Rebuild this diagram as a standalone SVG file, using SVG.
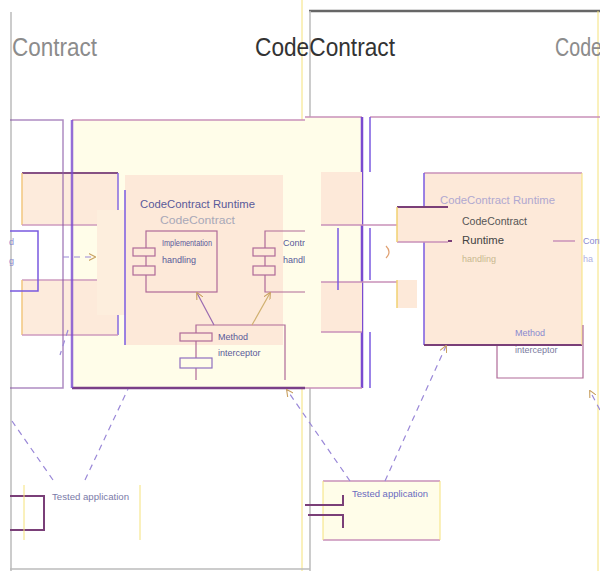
<svg xmlns="http://www.w3.org/2000/svg" width="600" height="571" viewBox="0 0 600 571">
<style>
.t{font-family:"Liberation Sans",Arial,sans-serif}
.big{font-size:25px}
.sm{font-size:10px}
.xs{font-size:9px}
.pl{fill:none;stroke:#8a5aa8;stroke-width:1.5}
.dk{fill:none;stroke:#7a3f78;stroke-width:2}
.bl{fill:none;stroke:#7a5ae0;stroke-width:1.5}
.pk{fill:none;stroke:#c890b8;stroke-width:1.5}
.yl{fill:none;stroke:#f5e27a;stroke-width:1}
.gr{fill:none;stroke:#bbb;stroke-width:1.5}
.peach{fill:#fde9d9}
.cream{fill:#fffde9}
.dash{fill:none;stroke:#9a88d8;stroke-width:1.2;stroke-dasharray:6 5}
</style>
<defs>
<marker id="ah" viewBox="0 0 10 10" refX="9" refY="5" markerWidth="6" markerHeight="6" orient="auto"><path d="M0,0 L10,5 L0,10" fill="none" stroke="#c8a060" stroke-width="1.5"/></marker>
<clipPath id="cl"><rect x="0" y="0" width="305" height="571"/></clipPath>
</defs>
<rect width="600" height="571" fill="#fff"/>

<g id="frames">
<line class="gr" x1="11" y1="12" x2="11" y2="571"/>
<line x1="309" y1="11" x2="600" y2="11" stroke="#666" stroke-width="2.5"/>
<line class="gr" x1="310" y1="11" x2="310" y2="571" stroke-width="1"/>
<line class="yl" x1="302" y1="0" x2="302" y2="571"/>
<line class="gr" x1="10" y1="569" x2="310" y2="569" stroke-width="1"/>
<line class="yl" x1="598" y1="11" x2="598" y2="571"/>
</g>

<g id="titles">
<text class="t big" x="12" y="56" fill="#8c8c8c" textLength="85" lengthAdjust="spacingAndGlyphs">Contract</text>
<text class="t big" x="255" y="56" fill="#333" textLength="140" lengthAdjust="spacingAndGlyphs">CodeContract</text>
<text class="t big" x="555" y="56" fill="#8c8c8c" textLength="47" lengthAdjust="spacingAndGlyphs">Code</text>
</g>

<g id="system-box">
<rect class="cream" x="72" y="120" width="233" height="268"/>
<line class="pk" x1="72" y1="120" x2="305" y2="120"/>
<line x1="72" y1="388" x2="305" y2="388" stroke="#7a3f88" stroke-width="2.5"/>
<rect class="cream" x="305" y="117" width="57" height="271"/>
<line class="pk" x1="305" y1="117" x2="362" y2="117"/>
<line x1="362" y1="117" x2="362" y2="388" stroke="#7a4ad0" stroke-width="2.5"/>
<line class="pk" x1="305" y1="388" x2="362" y2="388"/>
</g>

<g id="port-top-left" opacity="0.9">
<rect class="peach" x="22" y="173" width="96" height="52"/>
<line class="dk" x1="22" y1="173" x2="118" y2="173"/>
<line x1="22" y1="173" x2="22" y2="225" stroke="#f0c070" stroke-width="1.5"/>
<line class="bl" x1="118" y1="173" x2="118" y2="225"/>
<line class="pk" x1="22" y1="225" x2="118" y2="225"/>
</g>
<g id="port-bottom-left" opacity="0.9">
<rect class="peach" x="22" y="280" width="96" height="55"/>
<line class="pk" x1="22" y1="280" x2="118" y2="280"/>
<line x1="22" y1="280" x2="22" y2="335" stroke="#f0c070" stroke-width="1.5"/>
<line class="bl" x1="118" y1="280" x2="118" y2="335"/>
<line class="pk" x1="22" y1="335" x2="118" y2="335"/>
</g>

<g id="left-frame-box">
<polyline class="pl" points="10,120 63,120 63,388 10,388" opacity="0.7"/>
<line x1="72" y1="120" x2="72" y2="388" stroke="#7a4ad0" stroke-width="2.5" opacity="0.8"/>
</g>

<g id="left-small-box">
<polyline class="bl" points="10,231 38,231 38,291 10,291" stroke="#a890e0"/>
<text class="t xs" x="9" y="245" fill="#8a8ad0">d</text>
<text class="t xs" x="9" y="264" fill="#8a8ad0">g</text>
</g>

<g id="runtime">
<rect x="97" y="210" width="28" height="105" fill="#fdeedd"/>
<rect class="peach" x="125" y="175" width="158" height="170"/>
<line class="bl" x1="125" y1="190" x2="125" y2="345" stroke="#b0a0e8"/>
<text class="t sm" x="140" y="208" fill="#5a5a9a" textLength="115" lengthAdjust="spacingAndGlyphs">CodeContract Runtime</text>
<text class="t sm" x="160" y="224" fill="#a8a8b8" textLength="75" lengthAdjust="spacingAndGlyphs">CodeContract</text>
</g>

<g id="impl-handling">
<rect x="146" y="231" width="71" height="61" fill="none" stroke="#b06a98" stroke-width="1.2"/>
<rect x="133" y="248" width="22" height="8" fill="#fde9d9" stroke="#b06a98" stroke-width="1.2"/>
<rect x="133" y="266" width="22" height="9" fill="#fde9d9" stroke="#b06a98" stroke-width="1.2"/>
<text class="t xs" x="162" y="246" fill="#5a5a9a" textLength="50" lengthAdjust="spacingAndGlyphs">Implementation</text>
<text class="t xs" x="162" y="263" fill="#5a5a9a">handling</text>
</g>

<g id="contract-handling" clip-path="url(#cl)">
<polyline points="305,231 265,231 265,292 305,292" fill="none" stroke="#b06a98" stroke-width="1.2"/>
<rect x="253" y="248" width="22" height="8" fill="#fde9d9" stroke="#b06a98" stroke-width="1.2"/>
<rect x="253" y="266" width="22" height="9" fill="#fde9d9" stroke="#b06a98" stroke-width="1.2"/>
<text class="t xs" x="283" y="246" fill="#5a5a9a">Contract</text>
<text class="t xs" x="283" y="263" fill="#5a5a9a">handling</text>
</g>

<g id="method-interceptor">
<polyline points="196,380 196,325 285,325 285,380" fill="none" stroke="#b06a98" stroke-width="1.2"/>
<rect x="180" y="333" width="32" height="8" fill="#fde9d9" stroke="#b06a98" stroke-width="1.2"/>
<rect x="180" y="358" width="32" height="10" fill="#fffde9" stroke="#9070c0" stroke-width="1.2"/>
<text class="t xs" x="218" y="340" fill="#5a5a9a">Method</text>
<text class="t xs" x="218" y="356" fill="#5a5a9a">interceptor</text>
</g>

<g id="mid-ports">
<rect class="peach" x="321" y="172" width="41" height="53"/>
<rect class="peach" x="321" y="282" width="41" height="50"/>
<line class="pk" x1="321" y1="225" x2="417" y2="225"/>
<line class="pk" x1="321" y1="282" x2="417" y2="282"/>
<line class="pk" x1="321" y1="332" x2="362" y2="332"/>
<line class="bl" x1="338" y1="228" x2="338" y2="290"/>
</g>

<g id="right-frame-box">
<line class="pk" x1="370" y1="117" x2="600" y2="117"/>
<line class="bl" x1="370" y1="117" x2="370" y2="172"/>
<line class="bl" x1="370" y1="228" x2="370" y2="280"/>
<line class="bl" x1="370" y1="332" x2="370" y2="388"/>
</g>

<g id="right-runtime">
<rect class="peach" x="424" y="173" width="158" height="172"/>
<line class="pk" x1="424" y1="173" x2="582" y2="173"/>
<line class="bl" x1="424" y1="173" x2="424" y2="345" stroke="#9a80e0"/>
<line class="dk" x1="424" y1="345" x2="582" y2="345"/>
<line class="yl" x1="582" y1="173" x2="582" y2="345"/>
<text class="t sm" x="440" y="204" fill="#b0a8d0" textLength="115" lengthAdjust="spacingAndGlyphs">CodeContract Runtime</text>
<text class="t sm" x="462" y="225" fill="#555" textLength="65" lengthAdjust="spacingAndGlyphs">CodeContract</text>
<text class="t sm" x="462" y="244" fill="#444" textLength="42" lengthAdjust="spacingAndGlyphs">Runtime</text>
<text class="t xs" x="462" y="262" fill="#c8b890">handling</text>
<text class="t xs" x="583" y="244" fill="#8a8ad0">Cont</text>
<text class="t xs" x="583" y="262" fill="#b0b0e0">ha</text>
<line class="dk" x1="433" y1="241" x2="452" y2="241"/>
<line class="pk" x1="553" y1="241" x2="575" y2="241"/>
</g>

<g id="right-ports">
<rect class="peach" x="397" y="207" width="51" height="35"/>
<line class="dk" x1="397" y1="207" x2="448" y2="207"/>
<line class="pk" x1="397" y1="242" x2="448" y2="242"/>
<line x1="397" y1="207" x2="397" y2="242" stroke="#f0d070" stroke-width="1.5"/>
<rect class="peach" x="397" y="280" width="20" height="28"/>
<line x1="397" y1="280" x2="397" y2="308" stroke="#f0d070" stroke-width="1.5"/>
</g>

<g id="right-interceptor">
<text class="t xs" x="515" y="336" fill="#8a8ad0">Method</text>
<text class="t xs" x="515" y="353" fill="#7a7aa0">interceptor</text>
<polyline points="497,345 497,378 583,378 583,325" fill="none" stroke="#b06a98" stroke-width="1.2"/>
<line x1="480" y1="345" x2="510" y2="345" stroke="#7a3f78" stroke-width="2"/>
</g>

<g id="tested-app-left">
<polyline class="dk" points="10,496 44,496 44,530 10,530" stroke-width="1.5"/>
<line class="yl" x1="24" y1="485" x2="24" y2="540"/>
<line class="yl" x1="140" y1="485" x2="140" y2="540"/>
<text class="t xs" x="52" y="500" fill="#7a7aa8" textLength="77" lengthAdjust="spacingAndGlyphs">Tested application</text>
</g>

<g id="tested-app-right">
<rect class="cream" x="323" y="481" width="117" height="59"/>
<line class="pk" x1="323" y1="481" x2="440" y2="481" stroke-width="2"/>
<line class="pk" x1="323" y1="540" x2="440" y2="540" stroke-width="2"/>
<line class="yl" x1="440" y1="481" x2="440" y2="540"/>
<line class="yl" x1="323" y1="481" x2="323" y2="540"/>
<polyline class="dk" points="305,505 343,505 343,495" stroke-width="1.5"/>
<polyline class="dk" points="308,515 343,515 343,528" stroke-width="1.5"/>
<text class="t xs" x="352" y="497" fill="#6a6ac0" textLength="76" lengthAdjust="spacingAndGlyphs">Tested application</text>
</g>

<g id="connectors">
<line x1="214" y1="325" x2="197" y2="293" stroke="#9a6ab0" stroke-width="1.2" marker-end="url(#ah)"/>
<line x1="252" y1="325" x2="270" y2="293" stroke="#d0b070" stroke-width="1.2" marker-end="url(#ah)"/>
<line class="dash" x1="63" y1="257" x2="95" y2="257" stroke="#b07aa0" marker-end="url(#ah)"/>
<path d="M386,246 q6,6 0,12" fill="none" stroke="#e0a070" stroke-width="1.2"/>
<line class="dash" x1="85" y1="480" x2="128" y2="389"/>
<line class="dash" x1="53" y1="480" x2="12" y2="421"/>
<line class="dash" x1="350" y1="481" x2="287" y2="390" marker-end="url(#ah)"/>
<line class="dash" x1="385" y1="481" x2="446" y2="346" marker-end="url(#ah)"/>
<line class="dash" x1="600" y1="410" x2="590" y2="391" marker-end="url(#ah)"/>
<line class="dash" x1="68" y1="330" x2="60" y2="355"/>
</g>
</svg>
